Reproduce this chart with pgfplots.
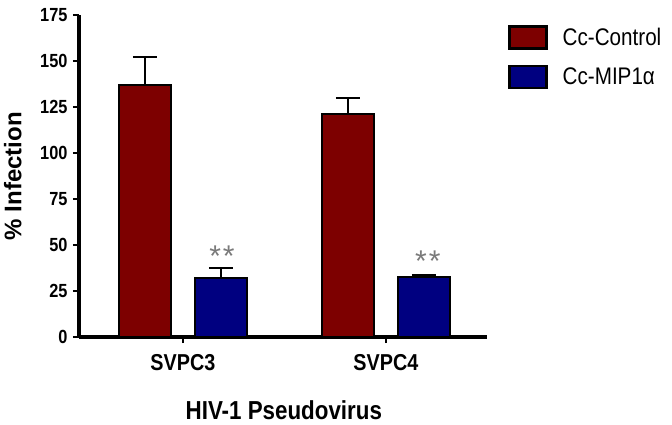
\documentclass[border=0pt]{standalone}
\usepackage{fontspec}
\setmainfont{Liberation Sans}
\newfontfamily\nfont[FakeStretch=0.86]{Liberation Sans}
\usepackage{pgfplots}
\pgfplotsset{compat=1.18}
\definecolor{ctrl}{HTML}{7D0000}
\definecolor{mip}{HTML}{000080}
\definecolor{star}{HTML}{7A7A7A}

\begin{document}
\begin{tikzpicture}
\begin{axis}[
    at={(0,0)}, anchor=south west,
    scale only axis,
    width=408pt, height=322pt,
    xmin=-0.512, xmax=1.498,
    ymin=0, ymax=175,
    axis x line=bottom, axis y line=left,
    axis line style={line width=3.2pt, -},
    ybar=24pt, bar width=52pt,
    xtick={0,1}, xticklabels={SVPC3,SVPC4},
    ytick={0,25,...,175},
    tick style={line width=2.5pt, black},
    major tick length=6pt,
    tick align=outside,
    /pgf/number format/assume math mode=true,
    yticklabel style={font=\nfont\bfseries\fontsize{19}{20}\selectfont, xshift=-2pt},
    xticklabel style={font=\nfont\bfseries\fontsize{23}{24}\selectfont, yshift=-8pt},
    ylabel={\% Infection},
    every axis y label/.style={at={(axis description cs:-0.162,0.5)}, rotate=90, anchor=center,
        font=\bfseries\fontsize{24}{26}\selectfont},
    xlabel={HIV-1 Pseudovirus},
    every axis x label/.style={at={(axis description cs:0.502,-0.227)}, anchor=center,
        font=\nfont\bfseries\fontsize{26}{28}\selectfont},
    legend style={at={(axis description cs:1.0515,0.969)}, anchor=north west,
        draw=none, fill=none, inner sep=0pt, row sep=15pt,
        nodes={inner sep=0pt, anchor=west, font=\nfont\fontsize{24}{24}\selectfont}},
    /tikz/every odd column/.append style={column sep=15pt},
    legend image code/.code={\draw[#1, line width=2.5pt] (0pt,-11pt) rectangle (37pt,11pt);},
    legend cell align=left,
    clip=false,
]
\addplot[fill=ctrl, draw=black, line width=2.5pt,
    error bars/.cd, y dir=plus, y explicit,
    error bar style={line width=2.5pt, black},
    error mark options={rotate=90, mark size=12pt, line width=2.5pt, black}]
    coordinates {(0,137) +- (0,15.2) (1,121.2) +- (0,8.7)};
\addplot[fill=mip, draw=black, line width=2.5pt,
    error bars/.cd, y dir=plus, y explicit,
    error bar style={line width=2.5pt, black},
    error mark options={rotate=90, mark size=12pt, line width=2.5pt, black}]
    coordinates {(0,32.1) +- (0,5.4) (1,32.6) +- (0,0.7)};
\legend{Cc-Control, Cc-MIP1α}
\node[text=star, font=\fontsize{30}{30}\selectfont, xshift=39pt] at (axis cs:0,44) {*\kern2pt*};
\node[text=star, font=\fontsize{30}{30}\selectfont, xshift=42pt] at (axis cs:1,41) {*\kern2pt*};
\end{axis}
\pgfresetboundingbox
\path[use as bounding box] (-79pt,-87pt) rectangle (593pt,337pt);
\end{tikzpicture}
\end{document}
